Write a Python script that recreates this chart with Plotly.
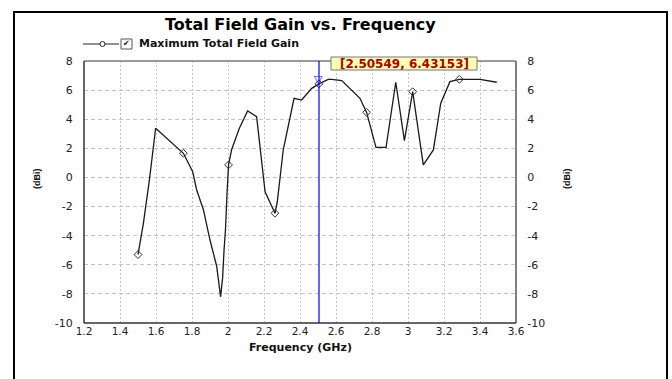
import plotly.graph_objects as go

# ---- data ----
freq_ghz = [1.5, 1.53, 1.563, 1.598, 1.752, 1.804, 1.826, 1.863, 1.9, 1.937, 1.959,
            1.97, 1.978, 1.986, 1.995, 2.003, 2.02, 2.063, 2.109, 2.159, 2.206,
            2.261, 2.274, 2.307, 2.367, 2.409, 2.465, 2.505, 2.557, 2.576, 2.632,
            2.674, 2.733, 2.77, 2.822, 2.878, 2.932, 2.98, 3.026, 3.085, 3.141,
            3.182, 3.233, 3.285, 3.4, 3.493]
gain_dbi = [-5.3, -3.15, -0.2, 3.38, 1.66, 0.4, -0.86, -2.2, -4.3, -6.1, -8.2,
            -6.9, -5.0, -3.6, -1.0, 0.86, 1.9, 3.38, 4.57, 4.18, -0.98,
            -2.46, -1.66, 1.9, 5.44, 5.32, 6.12, 6.43, 6.74, 6.74, 6.65,
            6.12, 5.44, 4.47, 2.07, 2.07, 6.54, 2.53, 5.89, 0.86, 1.89,
            5.1, 6.58, 6.74, 6.74, 6.54]
marker_freq = [1.5, 1.752, 2.003, 2.261, 2.505, 2.77, 3.026, 3.285]
marker_gain = [-5.3, 1.66, 0.86, -2.46, 6.43, 4.47, 5.89, 6.74]
cursor_freq = 2.50549
cursor_gain = 6.43153

x_ticks = [1.2, 1.4, 1.6, 1.8, 2, 2.2, 2.4, 2.6, 2.8, 3, 3.2, 3.4, 3.6]
x_ticktext = ["1.2", "1.4", "1.6", "1.8", "2", "2.2", "2.4", "2.6", "2.8", "3", "3.2", "3.4", "3.6"]
y_ticks = [-10, -8, -6, -4, -2, 0, 2, 4, 6, 8]
y_ticktext = ["-10", "-8", "-6", "-4", "-2", "0", "2", "4", "6", "8"]

title_text = "Total Field Gain vs. Frequency"
series_name = "Maximum Total Field Gain"
x_title = "Frequency (GHz)"
y_title = "(dBi)"

# ---- layout geometry (pixels) ----
W, H = 672, 379
L, R, T, B = 84, 516, 61, 323


def px(xp):
    return (xp - L) / (R - L)


def py(yp):
    return (B - yp) / (B - T)


TICKFONT = dict(family="DejaVu Sans", size=11, color="#222222")
XTICKFONT = dict(family="DejaVu Sans", size=10.5, color="#222222")

fig = go.Figure()
fig.add_trace(go.Scatter(x=freq_ghz, y=gain_dbi, mode="lines",
                         line=dict(color="#1a1a1a", width=1.3),
                         hoverinfo="skip", showlegend=False))
fig.add_trace(go.Scatter(x=marker_freq, y=marker_gain, mode="markers",
                         marker=dict(symbol="diamond-open", size=6, color="#333333",
                                     line=dict(width=1, color="#333333")),
                         hoverinfo="skip", showlegend=False))
# invisible trace for right axis
fig.add_trace(go.Scatter(x=[x_ticks[0]], y=[y_ticks[0]], yaxis="y2", mode="markers",
                         marker=dict(opacity=0), hoverinfo="skip", showlegend=False))

fig.update_layout(
    width=W, height=H,
    margin=dict(l=L, r=W - R, t=T, b=H - B, pad=0),
    paper_bgcolor="white", plot_bgcolor="white",
    showlegend=False,
    xaxis=dict(range=[1.2, 3.6], tickvals=x_ticks, ticktext=x_ticktext,
               showgrid=True, gridcolor="#c4c4c4", griddash="2px,2px", gridwidth=1,
               zeroline=False, showline=False, ticks="", tickfont=XTICKFONT),
    yaxis=dict(range=[-10, 8], tickvals=y_ticks, ticktext=y_ticktext,
               showgrid=True, gridcolor="#c4c4c4", griddash="4px,3px", gridwidth=1,
               zeroline=False, showline=False, ticks="outside", ticklen=8,
               tickcolor="rgba(0,0,0,0)", tickfont=TICKFONT),
    yaxis2=dict(range=[-10, 8], tickvals=y_ticks, ticktext=y_ticktext,
                overlaying="y", side="right", showgrid=False, zeroline=False,
                showline=False, ticks="outside", ticklen=8,
                tickcolor="rgba(0,0,0,0)", tickfont=TICKFONT),
)

shapes = []
# outer frame
shapes.append(dict(type="rect", xref="paper", yref="paper",
                   x0=px(14), x1=px(667), y0=py(420), y1=py(12),
                   line=dict(color="black", width=2), layer="above"))
# plot border
shapes.append(dict(type="line", xref="paper", yref="paper", x0=px(L), x1=px(R), y0=1, y1=1,
                   line=dict(color="#9a9a9a", width=2), layer="above"))
shapes.append(dict(type="line", xref="paper", yref="paper", x0=1, x1=1, y0=0, y1=1,
                   line=dict(color="#808080", width=2), layer="above"))
shapes.append(dict(type="line", xref="paper", yref="paper", x0=0, x1=0, y0=0, y1=1,
                   line=dict(color="#333333", width=1.5), layer="above"))
shapes.append(dict(type="line", xref="paper", yref="paper", x0=0, x1=1, y0=0, y1=0,
                   line=dict(color="#333333", width=1.5), layer="above"))
# cursor line
shapes.append(dict(type="line", xref="x", yref="paper", x0=cursor_freq, x1=cursor_freq,
                   y0=0, y1=1, line=dict(color="#0000ff", width=1.2), layer="above"))
# readout box
shapes.append(dict(type="rect", xref="paper", yref="paper",
                   x0=px(331), x1=px(477), y0=py(70), y1=py(57),
                   fillcolor="#ffffb4", line=dict(color="#777777", width=1), layer="above"))
# legend line + marker + checkbox
shapes.append(dict(type="line", xref="paper", yref="paper", x0=px(83), x1=px(119),
                   y0=py(44), y1=py(44), line=dict(color="#222222", width=1)))
shapes.append(dict(type="circle", xref="paper", yref="paper", x0=px(100), x1=px(105),
                   y0=py(46.5), y1=py(41.5), fillcolor="white",
                   line=dict(color="#222222", width=1)))
shapes.append(dict(type="rect", xref="paper", yref="paper", x0=px(121), x1=px(132),
                   y0=py(49), y1=py(39), fillcolor="white",
                   line=dict(color="#555555", width=1)))
fig.update_layout(shapes=shapes)

ann = []
ann.append(dict(text="<b>" + title_text + "</b>", xref="paper", yref="paper",
                x=px(300), y=py(24), xanchor="center", yanchor="middle", showarrow=False,
                font=dict(family="DejaVu Sans", size=16, color="black")))
ann.append(dict(text="<b>" + series_name + "</b>", xref="paper", yref="paper",
                x=px(137), y=py(44), xanchor="left", yanchor="middle", showarrow=False,
                font=dict(family="DejaVu Sans", size=11, color="#111111")))
ann.append(dict(text="✔", xref="paper", yref="paper",
                x=px(126.5), y=py(44), xanchor="center", yanchor="middle", showarrow=False,
                font=dict(family="DejaVu Sans", size=8, color="#111111")))
ann.append(dict(text="<b>" + x_title + "</b>", xref="paper", yref="paper",
                x=px(300), y=py(347.5), xanchor="center", yanchor="middle", showarrow=False,
                font=dict(family="DejaVu Sans", size=11, color="#111111")))
for xp in (37, 567):
    ann.append(dict(text="<b>" + y_title + "</b>", xref="paper", yref="paper",
                    x=px(xp), y=py(179), xanchor="center", yanchor="middle",
                    showarrow=False, textangle=-90,
                    font=dict(family="Liberation Sans", size=9, color="#111111")))
ann.append(dict(text="<b>[%.5f, %.5f]</b>" % (cursor_freq, cursor_gain),
                xref="paper", yref="paper", x=px(404), y=py(63.5),
                xanchor="center", yanchor="middle", showarrow=False,
                font=dict(family="DejaVu Sans", size=12, color="#b00000")))
ann.append(dict(text="▽", xref="x", yref="y", x=cursor_freq, y=cursor_gain,
                xanchor="center", yanchor="bottom", showarrow=False, yshift=-4,
                font=dict(family="DejaVu Sans", size=11, color="#2020ff")))
fig.update_layout(annotations=ann)

fig.write_html("out.html")
